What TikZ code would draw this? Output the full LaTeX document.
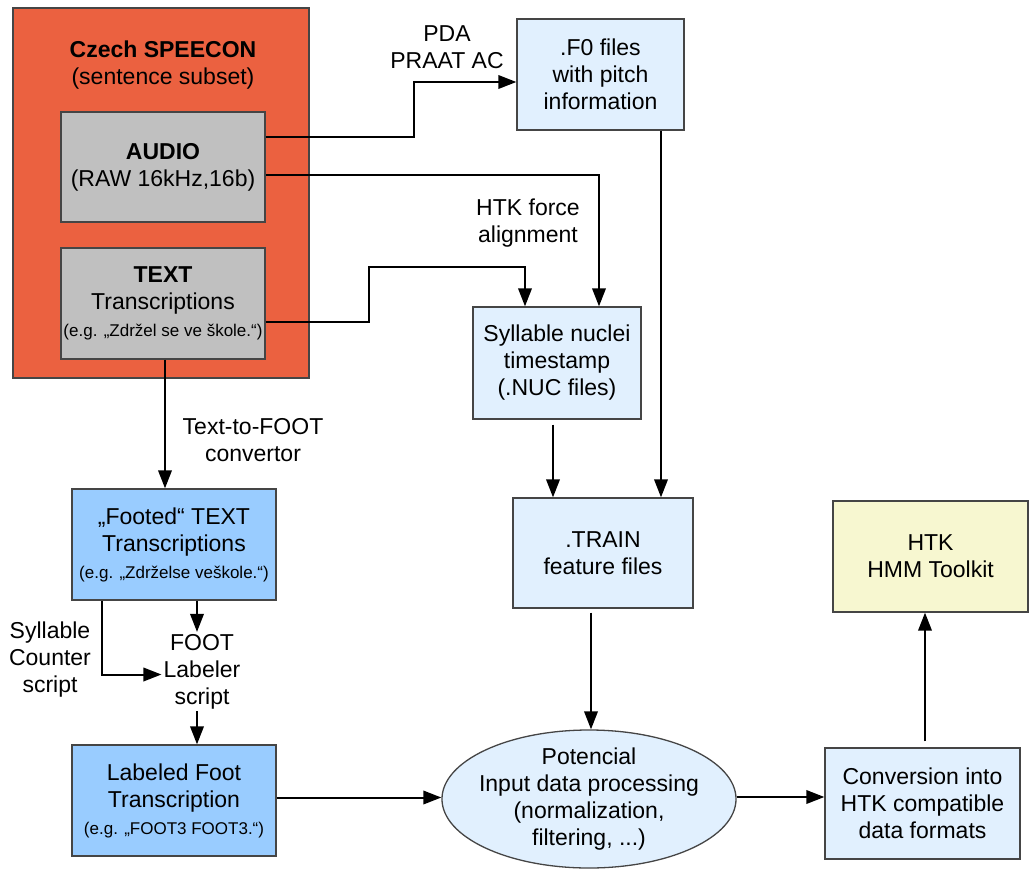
\documentclass[tikz,border=0pt]{standalone}
\usepackage{fontspec}
\setmainfont{Liberation Sans}
\usetikzlibrary{arrows.meta,shapes.geometric,calc}
\definecolor{orangebg}{HTML}{EB6140}
\definecolor{graybg}{HTML}{C0C0C0}
\definecolor{lightblue}{HTML}{E1F0FE}
\definecolor{midblue}{HTML}{99CCFF}
\definecolor{paleyellow}{HTML}{F7F7D0}
\definecolor{boxline}{HTML}{454545}
\begin{document}
\begin{tikzpicture}[x=1pt,y=-1pt,
  box/.style={draw=boxline, line width=1.3pt, inner sep=0pt, align=center, font=\fontsize{23}{27}\selectfont},
  conn/.style={draw=black, line width=2pt, -{Triangle[length=18pt,width=13.5pt]}},
  lbl/.style={align=center, inner sep=2pt, font=\fontsize{23}{27}\selectfont}]
\newcommand{\smalltxt}[1]{{\fontsize{17}{20}\selectfont #1}}
\useasboundingbox (0,0) rectangle (1029,871);

% boxes
\node[box, fill=orangebg, minimum width=296pt, minimum height=370pt] (speecon) at (161,193) {};
\node[lbl] (speecontitle) at (163,65) {\textbf{Czech SPEECON}\\(sentence subset)};
\node[box, fill=graybg, minimum width=204pt, minimum height=110pt] (audio) at (163,167) {\textbf{AUDIO}\\(RAW 16kHz,16b)};
\node[box, fill=graybg, minimum width=204pt, minimum height=111pt] (textbox) at (163,303.5) {\textbf{TEXT}\\Transcriptions\\\smalltxt{(e.g. „Zdržel se ve škole.“)}};
\node[box, fill=lightblue, minimum width=167pt, minimum height=111pt] (f0) at (600.5,74.5) {.F0 files\\with pitch\\information};
\node[box, fill=lightblue, minimum width=168pt, minimum height=112pt] (nuc) at (557,363) {Syllable nuclei\\timestamp\\(.NUC files)};
\node[box, fill=midblue, minimum width=204pt, minimum height=111pt] (footed) at (174,544.5) {„Footed“ TEXT\\Transcriptions\\\smalltxt{(e.g. „Zdrželse veškole.“)}};
\node[box, fill=midblue, minimum width=204pt, minimum height=111pt] (labeled) at (174,800.5) {Labeled Foot\\Transcription\\\smalltxt{(e.g. „FOOT3 FOOT3.“)}};
\node[box, fill=lightblue, minimum width=180pt, minimum height=110pt] (train) at (603,553) {.TRAIN\\feature files};
\node[box, fill=paleyellow, minimum width=195pt, minimum height=111pt] (htk) at (930.5,556.5) {HTK\\HMM Toolkit};
\node[box, fill=lightblue, minimum width=195pt, minimum height=111pt] (conv) at (922.5,803.5) {Conversion into\\HTK compatible\\data formats};
\node[box, ellipse, fill=lightblue, inner xsep=-6pt, inner ysep=-6pt, minimum width=292pt, minimum height=138pt] (proc) at (589,799) {Potencial\\Input data processing\\(normalization,\\filtering, ...)};

% labels
\node[lbl] (pda) at (447,47) {PDA\\PRAAT AC};
\node[lbl] (htkforce) at (528,223.5) {HTK force\\alignment};
\node[lbl] (t2f) at (253,440) {Text-to-FOOT\\convertor};
\node[lbl] (sylcount) at (50,659.5) {Syllable\\Counter\\script};
\node[lbl] (footlabel) at (202,671.5) {FOOT\\Labeler\\script};

% connectors
\draw[conn] ([yshift=30pt]audio.east) -- ++(148,0) |- ([yshift=-7.5pt]f0.west);
\draw[conn] ([yshift=-8pt]audio.east) -| ([xshift=42pt]nuc.north);
\draw[conn] ([yshift=-18.5pt]textbox.east) -- ++(103,0) -- ++(0,-55) -| ([xshift=-32pt]nuc.north);
\draw[conn] ([xshift=60.5pt]f0.south) -- ([xshift=60.5pt]f0.south |- train.north);
\draw[conn] ([xshift=-4pt,yshift=-5pt]nuc.south) -- ([xshift=-4pt]nuc.south |- train.north);
\draw[conn] ([xshift=-12pt,yshift=-4pt]train.south) -- ([xshift=-12pt]train.south |- proc.north);
\draw[conn] ([xshift=2pt]textbox.south) -- ([xshift=2pt]textbox.south |- footed.north);
\draw[conn] ([xshift=23pt]footed.south) -- ([xshift=23pt]footed.south |- footlabel.north);
\draw[conn] ([xshift=-72pt]footed.south) |- ([yshift=-3pt]footlabel.west);
\draw[conn] ([xshift=-5pt]footlabel.south) -- ([xshift=-5pt]footlabel.south |- labeled.north);
\draw[conn] ([yshift=3pt]labeled.east) -- ([yshift=3pt]labeled.east -| proc.west);
\draw[conn] ([yshift=2pt]proc.east) -- ([yshift=2pt]proc.east -| conv.west);
\draw[conn] ([xshift=2.5pt,yshift=6pt]conv.north) -- ([xshift=2.5pt]conv.north |- htk.south);
\end{tikzpicture}
\end{document}
